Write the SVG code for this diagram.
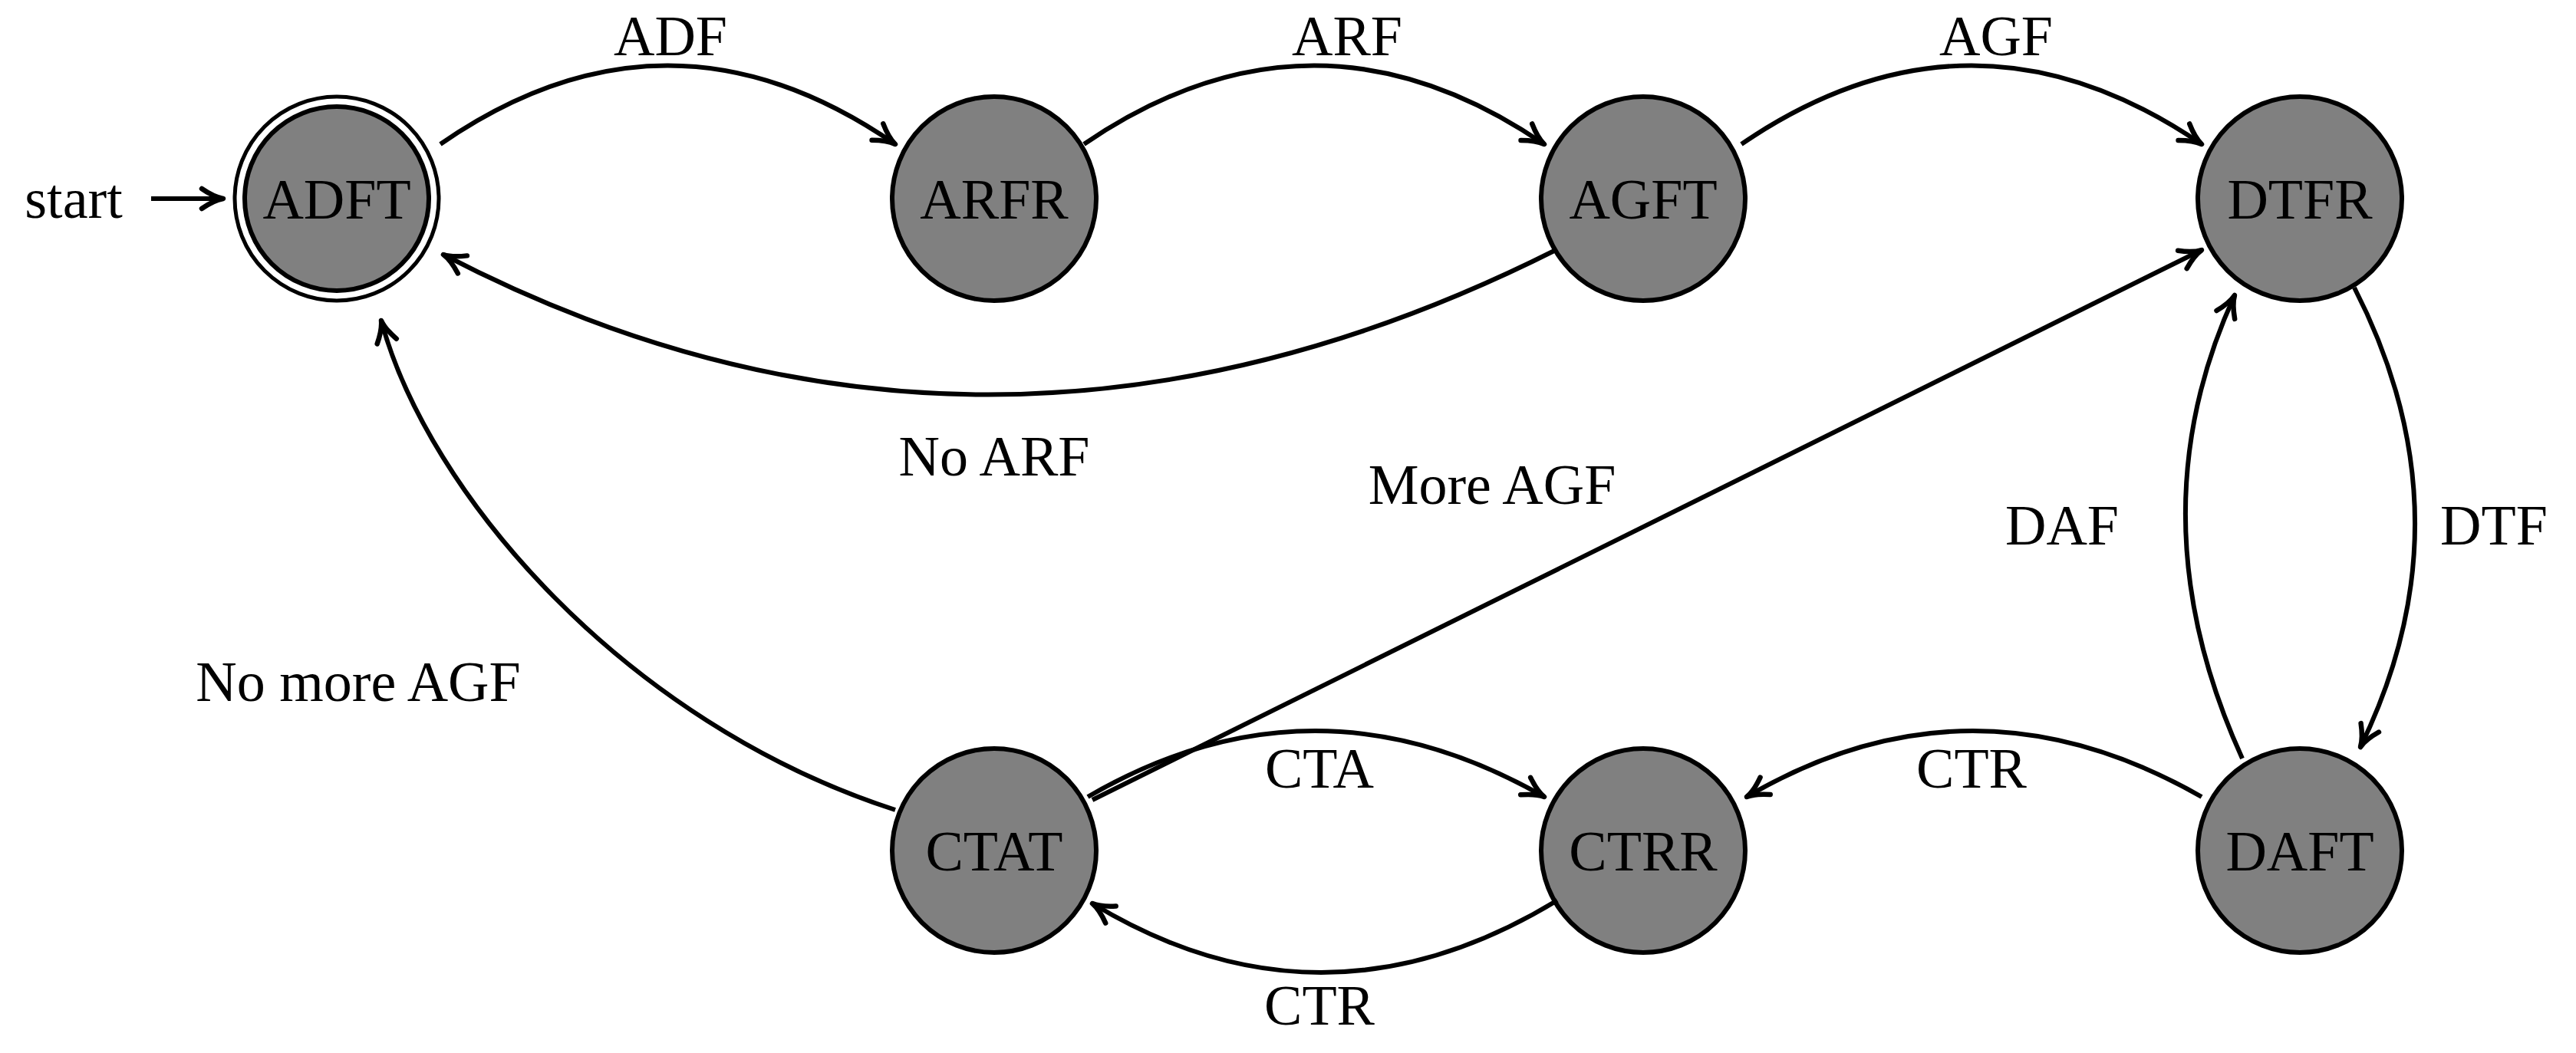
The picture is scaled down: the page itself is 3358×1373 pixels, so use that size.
<svg xmlns="http://www.w3.org/2000/svg" width="3358" height="1373" viewBox="0 0 3358 1373">
<style>
.n{fill:#808080;stroke:#000;stroke-width:6}
.o{fill:none;stroke:#000;stroke-width:5}
text{font-family:"Liberation Serif","DejaVu Serif",serif;font-size:74px;text-anchor:middle;fill:#000}
.e{fill:none;stroke:#000;stroke-width:6;marker-end:url(#a)}
</style>
<defs>
<marker id="a" markerUnits="userSpaceOnUse" markerWidth="40" markerHeight="40" refX="4" refY="0" viewBox="-30 -20 40 40" orient="auto">
<path d="M-24,-13 Q-8,-2 4,0 Q-8,2 -24,13" fill="none" stroke="#000" stroke-width="6.5" stroke-linecap="round" stroke-linejoin="round"/>
</marker>
</defs>
<rect width="3358" height="1373" fill="#fff"/>
<g id="ADFT"><circle class="o" cx="439" cy="259" r="133"/><circle class="n" cx="439" cy="259" r="120"/><text x="439" y="285">ADFT</text></g>
<g id="ARFR"><circle class="n" cx="1296" cy="259" r="133"/><text x="1296" y="285">ARFR</text></g>
<g id="AGFT"><circle class="n" cx="2142" cy="259" r="133"/><text x="2142" y="285">AGFT</text></g>
<g id="DTFR"><circle class="n" cx="2998" cy="259" r="133"/><text x="2998" y="285">DTFR</text></g>
<g id="CTAT"><circle class="n" cx="1296" cy="1109" r="133"/><text x="1296" y="1135">CTAT</text></g>
<g id="CTRR"><circle class="n" cx="2142" cy="1109" r="133"/><text x="2142" y="1135">CTRR</text></g>
<g id="DAFT"><circle class="n" cx="2998" cy="1109" r="133"/><text x="2998" y="1135">DAFT</text></g>
<g id="edges">
<path class="e" d="M197,259 L291,259"/>
<path class="e" d="M574,188 Q870,-17 1167,188"/>
<path class="e" d="M1413,188 Q1713,-17 2013,188"/>
<path class="e" d="M2270,188 Q2570,-17 2870,188"/>
<path class="e" d="M2028,326 Q1285,700 578,332"/>
<path class="e" d="M1424,1043 L2870,326"/>
<path class="e" d="M1167,1056 C814,942 557,642 497,418"/>
<path class="e" d="M3069,375 Q3223,675 3077,974"/>
<path class="e" d="M2923,989 Q2780,675 2913,385"/>
<path class="e" d="M2870,1039 Q2570,867 2277,1039"/>
<path class="e" d="M1418,1039 Q1713,867 2013,1039"/>
<path class="e" d="M2030,1174 Q1724,1360 1424,1178"/>
</g>
<g id="labels">
<text x="96" y="284">start</text>
<text x="874" y="72">ADF</text>
<text x="1756" y="72">ARF</text>
<text x="2602" y="72">AGF</text>
<text x="1296" y="620">No ARF</text>
<text x="1945" y="657">More AGF</text>
<text x="467" y="914">No more AGF</text>
<text x="3251" y="710">DTF</text>
<text x="2688" y="710">DAF</text>
<text x="2570" y="1027">CTR</text>
<text x="1720" y="1027">CTA</text>
<text x="1720" y="1336">CTR</text>
</g>
</svg>
